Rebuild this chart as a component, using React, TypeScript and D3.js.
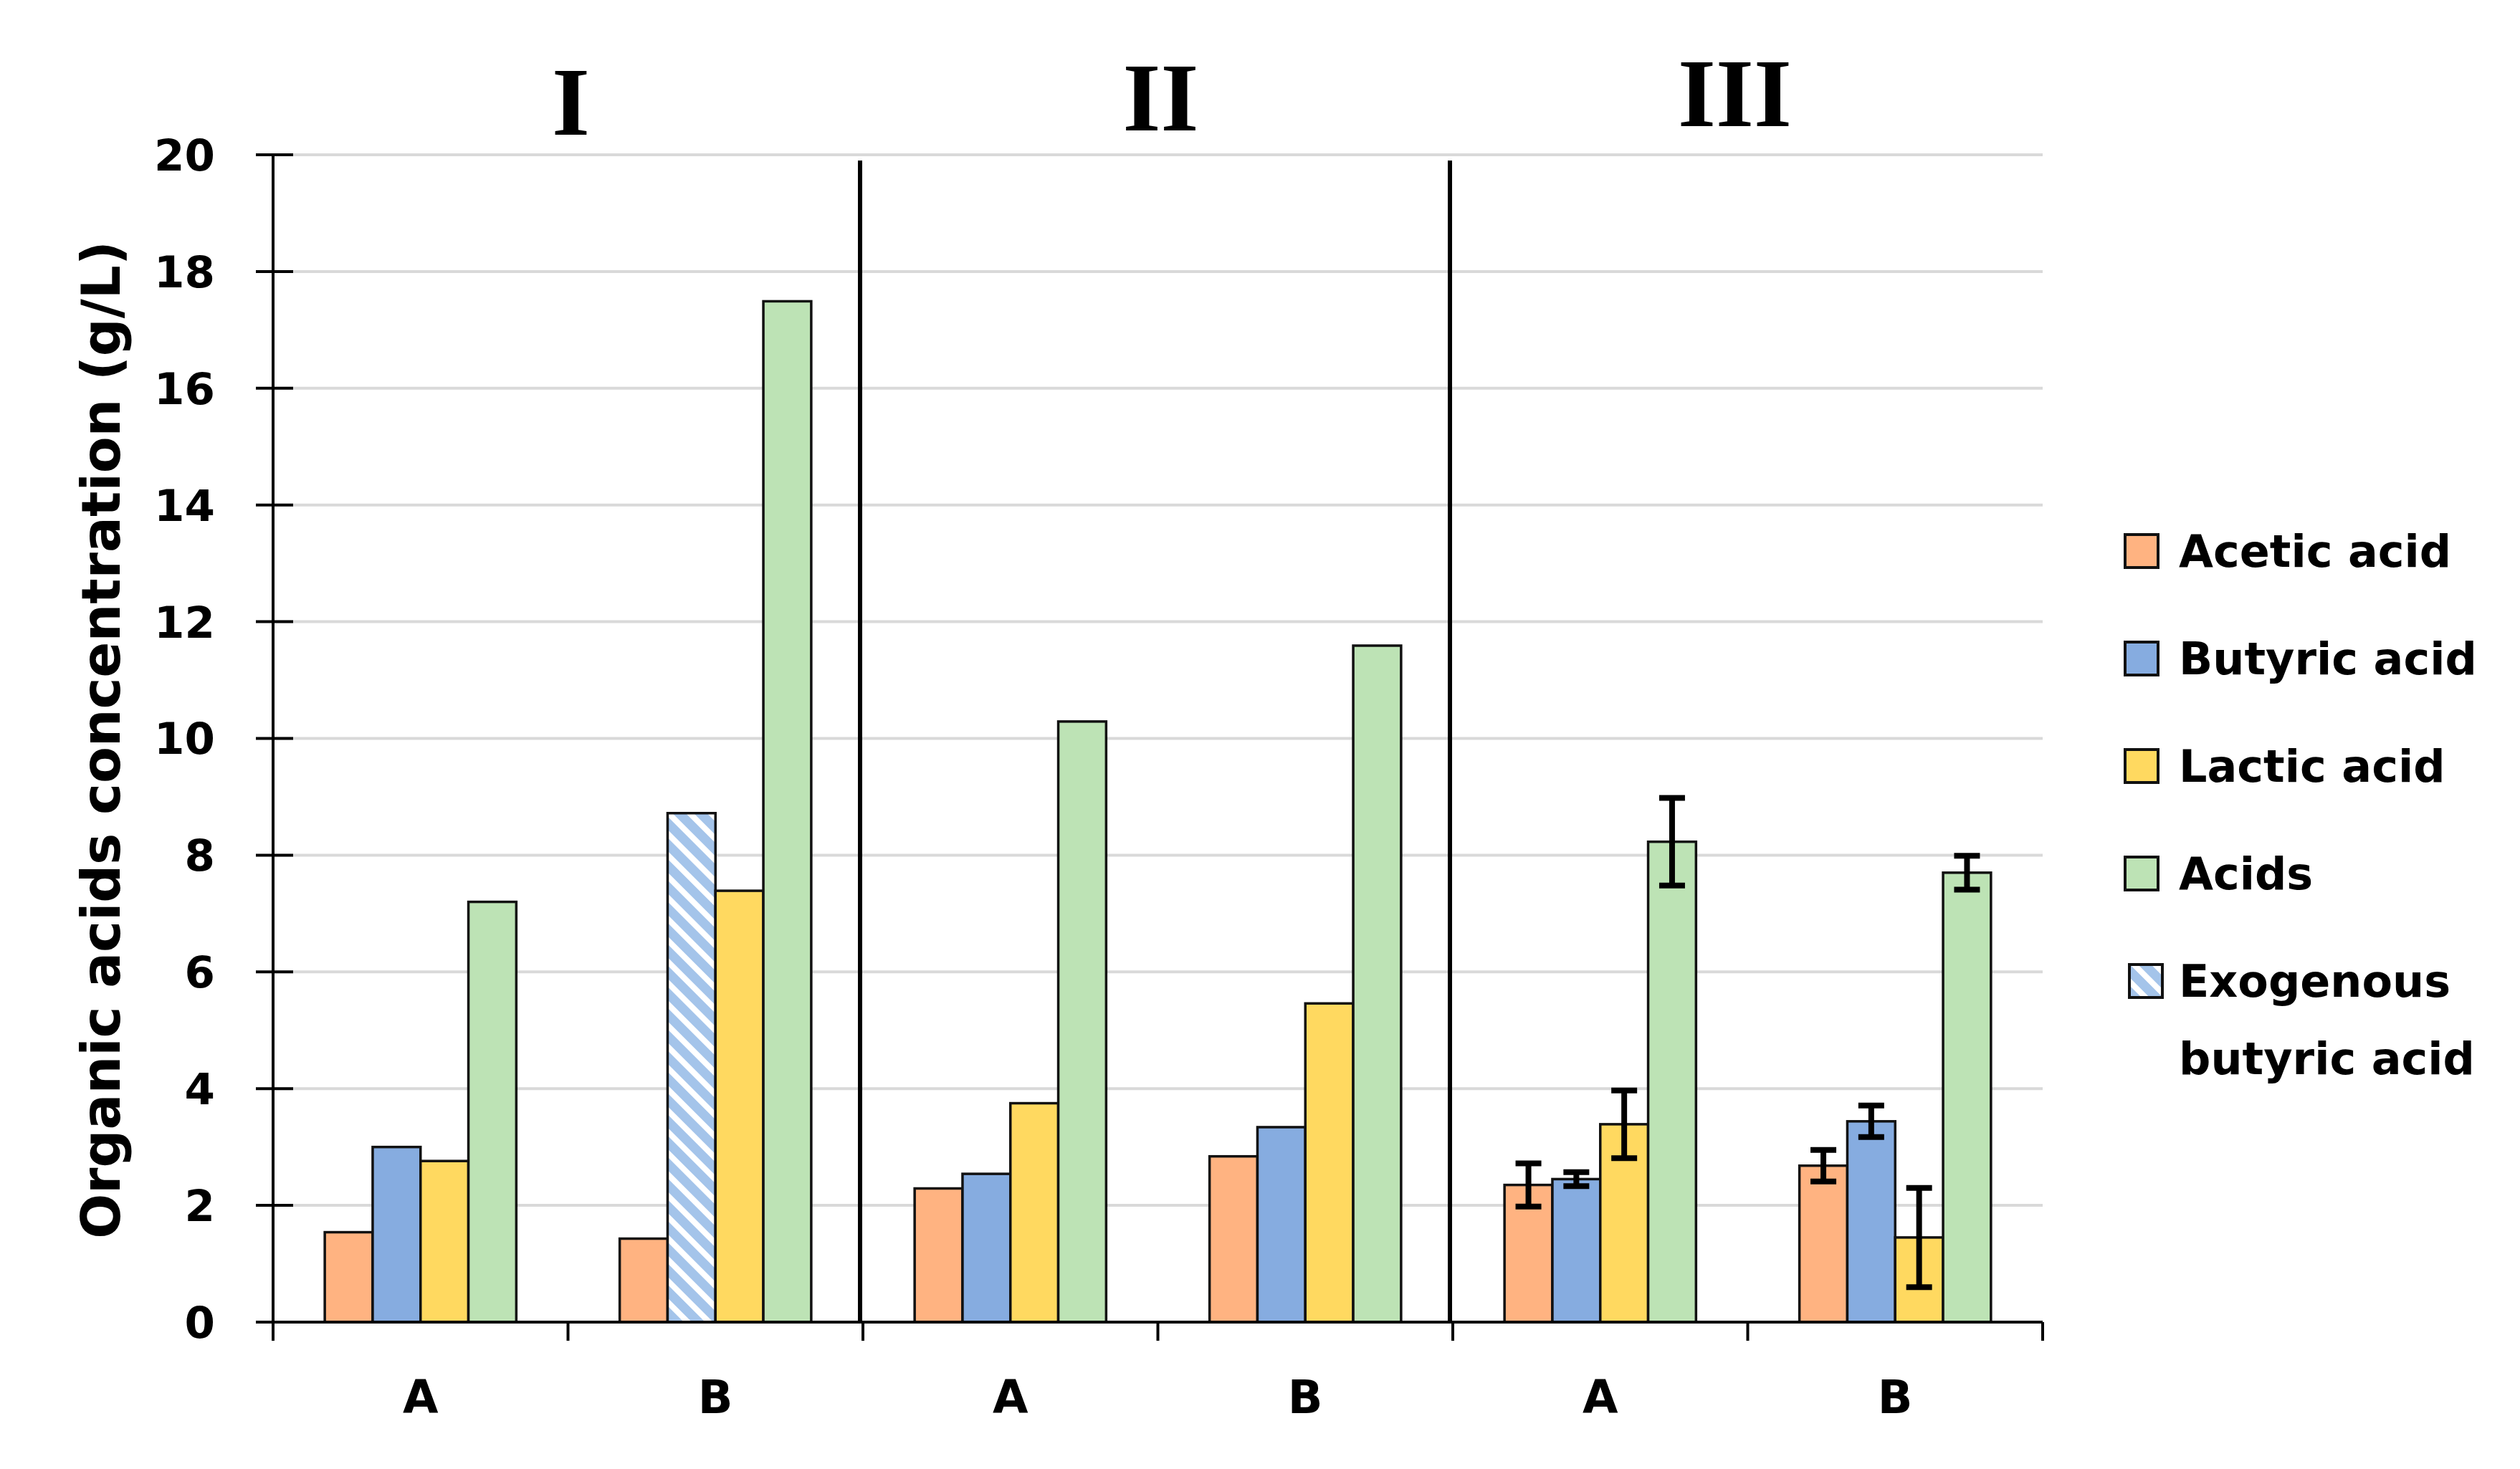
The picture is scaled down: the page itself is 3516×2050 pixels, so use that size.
import React, { useEffect, useRef } from 'react';
import * as d3 from 'd3';

// Data
const sections = ['I', 'II', 'III'];
const categories = ['A', 'B', 'A', 'B', 'A', 'B'];
const acetic = [1.54, 1.43, 2.29, 2.84, 2.35, 2.68];
const butyric: (number | null)[] = [3.0, null, 2.54, 3.34, 2.45, 3.44];
const exogenousButyric: (number | null)[] = [null, 8.72, null, null, null, null];
const lactic = [2.76, 7.39, 3.75, 5.46, 3.39, 1.45];
const acids = [7.2, 17.49, 10.29, 11.59, 8.23, 7.7];
const aceticErr: (number | null)[] = [null, null, null, null, 0.37, 0.27];
const butyricErr: (number | null)[] = [null, null, null, null, 0.12, 0.27];
const lacticErr: (number | null)[] = [null, null, null, null, 0.58, 0.85];
const acidsErr: (number | null)[] = [null, null, null, null, 0.75, 0.29];
const yTicks = [0, 2, 4, 6, 8, 10, 12, 14, 16, 18, 20];
const legendLabels = ['Acetic acid', 'Butyric acid', 'Lactic acid', 'Acids', 'Exogenous'];

const COLORS = {
  acetic: '#FFB381',
  butyric: '#86ACE0',
  lactic: '#FFD960',
  acids: '#BDE3B5',
  exo: '#A4C4EA',
};

const W = 3516;
const H = 2050;
const FONT = "'DejaVu Sans', Verdana, sans-serif";

const App: React.FC = () => {
  const svgRef = useRef<SVGSVGElement>(null);

  useEffect(() => {
    document.body.style.margin = '0';
    const svg = d3.select(svgRef.current);
    svg.selectAll('*').remove();

    const left = 381, right = 2850, bottom = 1845, top = 216;

    const x0 = d3.scaleBand<number>().domain(d3.range(categories.length)).range([left, right]);
    const slots = ['acetic', 'butyric', 'lactic', 'acids'];
    const x1 = d3.scaleBand<string>().domain(slots).range([0, x0.bandwidth()]).paddingOuter(1.08);
    const y = d3.scaleLinear().domain([0, 20]).range([bottom, top]);

    // hatch pattern
    const defs = svg.append('defs');
    const pat = defs.append('pattern')
      .attr('id', 'hatch')
      .attr('patternUnits', 'userSpaceOnUse')
      .attr('width', 21)
      .attr('height', 21)
      .attr('patternTransform', 'rotate(-45)');
    pat.append('rect').attr('width', 21).attr('height', 21).attr('fill', COLORS.exo);
    pat.append('rect').attr('x', 0).attr('width', 8).attr('height', 21).attr('fill', '#fff');

    svg.append('rect').attr('width', W).attr('height', H).attr('fill', '#fff');

    // gridlines
    svg.append('g').selectAll('line')
      .data(yTicks.filter(t => t > 0))
      .enter().append('line')
      .attr('x1', left).attr('x2', right)
      .attr('y1', d => y(d)).attr('y2', d => y(d))
      .attr('stroke', '#D9D9D9').attr('stroke-width', 4);

    // section dividers
    const sectionW = x0.bandwidth() * 2;
    svg.append('g').selectAll('line')
      .data([1, 2])
      .enter().append('line')
      .attr('x1', d => left + d * sectionW - 4).attr('x2', d => left + d * sectionW - 4)
      .attr('y1', y(20) + 8).attr('y2', bottom)
      .attr('stroke', '#000').attr('stroke-width', 6);

    // bars
    type Bar = { cat: number; slot: string; value: number; err: number | null; fill: string };
    const bars: Bar[] = [];
    categories.forEach((_, i) => {
      bars.push({ cat: i, slot: 'acetic', value: acetic[i], err: aceticErr[i], fill: COLORS.acetic });
      if (butyric[i] != null) bars.push({ cat: i, slot: 'butyric', value: butyric[i] as number, err: butyricErr[i], fill: COLORS.butyric });
      if (exogenousButyric[i] != null) bars.push({ cat: i, slot: 'butyric', value: exogenousButyric[i] as number, err: null, fill: 'url(#hatch)' });
      bars.push({ cat: i, slot: 'lactic', value: lactic[i], err: lacticErr[i], fill: COLORS.lactic });
      bars.push({ cat: i, slot: 'acids', value: acids[i], err: acidsErr[i], fill: COLORS.acids });
    });

    svg.append('g').selectAll('rect')
      .data(bars)
      .enter().append('rect')
      .attr('x', d => (x0(d.cat) as number) + (x1(d.slot) as number))
      .attr('y', d => y(d.value))
      .attr('width', x1.bandwidth())
      .attr('height', d => bottom - y(d.value))
      .attr('fill', d => d.fill)
      .attr('stroke', '#111')
      .attr('stroke-width', 3.5);

    // error bars
    const errG = svg.append('g').attr('stroke', '#000').attr('stroke-width', 8);
    bars.filter(d => d.err != null).forEach(d => {
      const cx = (x0(d.cat) as number) + (x1(d.slot) as number) + x1.bandwidth() / 2;
      const hi = y(d.value + (d.err as number));
      const lo = y(d.value - (d.err as number));
      errG.append('line').attr('x1', cx).attr('x2', cx).attr('y1', hi).attr('y2', lo);
      errG.append('line').attr('x1', cx - 18).attr('x2', cx + 18).attr('y1', hi).attr('y2', hi);
      errG.append('line').attr('x1', cx - 18).attr('x2', cx + 18).attr('y1', lo).attr('y2', lo);
    });

    // y axis
    const yAxis = svg.append('g');
    yAxis.append('line')
      .attr('x1', left).attr('x2', left).attr('y1', y(20)).attr('y2', bottom)
      .attr('stroke', '#000').attr('stroke-width', 4);
    yAxis.selectAll('.tick')
      .data(yTicks)
      .enter().append('line')
      .attr('x1', left - 24).attr('x2', left + 28)
      .attr('y1', d => y(d)).attr('y2', d => y(d))
      .attr('stroke', '#000').attr('stroke-width', 4);
    yAxis.selectAll('text')
      .data(yTicks)
      .enter().append('text')
      .attr('x', 300)
      .attr('y', d => y(d))
      .attr('dy', '0.36em')
      .attr('text-anchor', 'end')
      .attr('font-family', FONT)
      .attr('font-weight', 'bold')
      .attr('font-size', 61)
      .text(d => d);

    // x axis
    const xAxis = svg.append('g');
    xAxis.append('line')
      .attr('x1', left - 24).attr('x2', right).attr('y1', bottom).attr('y2', bottom)
      .attr('stroke', '#000').attr('stroke-width', 4);
    xAxis.selectAll('.tick')
      .data(d3.range(categories.length + 1))
      .enter().append('line')
      .attr('x1', d => left + d * x0.bandwidth()).attr('x2', d => left + d * x0.bandwidth())
      .attr('y1', bottom).attr('y2', bottom + 26)
      .attr('stroke', '#000').attr('stroke-width', 4);
    xAxis.selectAll('text')
      .data(categories)
      .enter().append('text')
      .attr('x', (_, i) => (x0(i) as number) + x0.bandwidth() / 2)
      .attr('y', 1972)
      .attr('text-anchor', 'middle')
      .attr('font-family', FONT)
      .attr('font-weight', 'bold')
      .attr('font-size', 64)
      .text(d => d);

    // section titles
    svg.append('g').selectAll('text')
      .data(sections)
      .enter().append('text')
      .attr('x', (_, i) => left + (i + 0.5) * sectionW + [4, 4, -18][i])
      .attr('y', (_, i) => 188 - i * 6)
      .attr('text-anchor', 'middle')
      .attr('font-family', "'Liberation Serif', 'Times New Roman', serif")
      .attr('font-weight', 'bold')
      .attr('font-size', 136)
      .text(d => d);

    // y label
    svg.append('text')
      .attr('transform', `translate(140, ${(top + bottom) / 2 + 2}) rotate(-90)`)
      .attr('dy', '0.36em')
      .attr('text-anchor', 'middle')
      .attr('font-family', FONT)
      .attr('font-weight', 'bold')
      .attr('font-size', 74)
      .text('Organic acids concentration (g/L)');

    // legend
    const legendFills = [COLORS.acetic, COLORS.butyric, COLORS.lactic, COLORS.acids, 'url(#hatch)'];
    const lg = svg.append('g').attr('transform', 'translate(2965, 769)');
    const item = lg.selectAll('g')
      .data(legendLabels)
      .enter().append('g')
      .attr('transform', (_, i) => `translate(0, ${i * 150})`);
    item.append('rect')
      .attr('x', (_, i) => (i === 4 ? 6 : 0))
      .attr('y', -23)
      .attr('width', 46).attr('height', 46)
      .attr('fill', (_, i) => legendFills[i])
      .attr('stroke', '#111').attr('stroke-width', 4);
    item.append('text')
      .attr('x', 75)
      .attr('dy', '0.36em')
      .attr('font-family', FONT)
      .attr('font-weight', 'bold')
      .attr('font-size', 62)
      .text(d => d);
    lg.append('text')
      .attr('x', 75)
      .attr('y', 4 * 150 + 108)
      .attr('dy', '0.36em')
      .attr('font-family', FONT)
      .attr('font-weight', 'bold')
      .attr('font-size', 62)
      .text('butyric acid');
  }, []);

  return <svg ref={svgRef} width={W} height={H} style={{ display: 'block' }} />;
};

export default App;
